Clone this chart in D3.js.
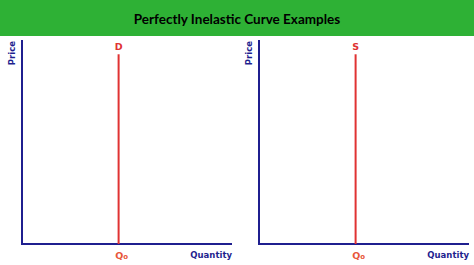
<!DOCTYPE html>
<html>
<head>
<meta charset="utf-8">
<script src="https://cdn.jsdelivr.net/npm/d3@7"></script>
<style>
  body { margin: 0; background: #fff; }
  svg { display: block; }
</style>
</head>
<body>
<svg id="chart" width="474" height="265"></svg>
<script>
// данные графика
const title = "Perfectly Inelastic Curve Examples";
const curveLabels = ["D", "S"];
const quantityLabel = "Quantity";
const priceLabel = "Price";
const qZeroValue = [4.6, 4.6];      // положение вертикальной кривой по оси Q (0..10)
const curveTop = [9.3, 9.3];        // верх кривой по оси P (0..10)

const W = 474, H = 265;
const svg = d3.select("#chart");

// зелёная плашка с заголовком
svg.append("rect")
    .attr("x", 0).attr("y", 0)
    .attr("width", W).attr("height", 36)
    .attr("fill", "#2eb135");
svg.append("text")
    .attr("x", W / 2).attr("y", 19)
    .attr("text-anchor", "middle")
    .attr("dominant-baseline", "central")
    .attr("font-family", "Lato, 'Open Sans', sans-serif")
    .attr("font-weight", "bold")
    .attr("font-size", 13.5)
    .attr("fill", "#000")
    .text(title);

const axisColor = "#1f1f8f";
const curveColor = "#e03232";
const qColor = "#e8573a";
const panelLeft = [22, 259];
const panelWidth = 210;
const plotTop = 40, plotBottom = 244;

curveLabels.forEach((lab, i) => {
    const x = d3.scaleLinear().domain([0, 10]).range([panelLeft[i], panelLeft[i] + panelWidth]);
    const y = d3.scaleLinear().domain([0, 10]).range([plotBottom, plotTop]);
    const g = svg.append("g");

    // оси
    g.append("line")
        .attr("x1", x(0)).attr("x2", x(0))
        .attr("y1", y(10)).attr("y2", y(0) + 1)
        .attr("stroke", axisColor).attr("stroke-width", 2);
    g.append("line")
        .attr("x1", x(0) - 1).attr("x2", x(10))
        .attr("y1", y(0)).attr("y2", y(0))
        .attr("stroke", axisColor).attr("stroke-width", 2);

    // вертикальная кривая
    g.append("line")
        .attr("x1", x(qZeroValue[i])).attr("x2", x(qZeroValue[i]))
        .attr("y1", y(curveTop[i])).attr("y2", y(0))
        .attr("stroke", curveColor).attr("stroke-width", 2);

    g.append("text")
        .attr("x", x(qZeroValue[i])).attr("y", y(curveTop[i]) - 8)
        .attr("text-anchor", "middle")
        .attr("dominant-baseline", "central")
        .attr("font-family", "'DejaVu Sans', sans-serif")
        .attr("font-weight", "bold")
        .attr("font-size", 9.5)
        .attr("fill", curveColor)
        .text(lab);

    // подпись Q0
    const q = g.append("text")
        .attr("x", x(qZeroValue[i]) + 3).attr("y", y(0) + 11)
        .attr("text-anchor", "middle")
        .attr("dominant-baseline", "central")
        .attr("font-family", "'DejaVu Sans', sans-serif")
        .attr("font-weight", "bold")
        .attr("font-size", 9.5)
        .attr("fill", qColor);
    q.append("tspan").text("Q");
    q.append("tspan").attr("font-size", 7).attr("dy", 2).text("o");

    // подписи осей
    g.append("text")
        .attr("x", x(10)).attr("y", y(0) + 11)
        .attr("text-anchor", "end")
        .attr("dominant-baseline", "central")
        .attr("font-family", "'DejaVu Sans', sans-serif")
        .attr("font-weight", "bold")
        .attr("font-size", 8.5)
        .attr("fill", axisColor)
        .text(quantityLabel);

    g.append("text")
        .attr("transform", `translate(${x(0) - 10},${plotTop + 1}) rotate(-90)`)
        .attr("text-anchor", "end")
        .attr("dominant-baseline", "central")
        .attr("font-family", "'DejaVu Sans', sans-serif")
        .attr("font-weight", "bold")
        .attr("font-size", 8.5)
        .attr("fill", axisColor)
        .text(priceLabel);
});
</script>
</body>
</html>
